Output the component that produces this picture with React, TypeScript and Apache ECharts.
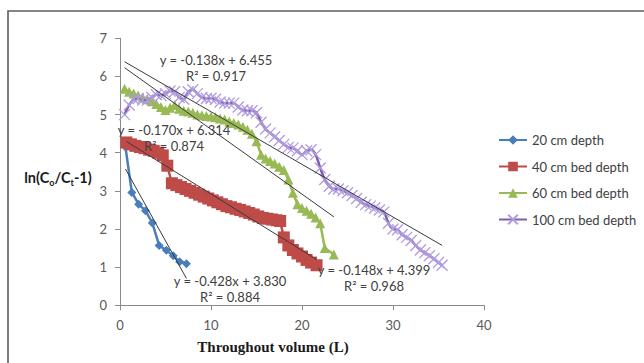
import React, { useEffect, useRef } from "react";
import * as echarts from "echarts";

// ---- data ----
const seriesNames = ["20 cm depth", "40 cm bed depth", "60 cm bed depth", "100 cm bed depth"];

const vol20 = [0.6, 1.3, 2.05, 2.8, 3.55, 4.3, 5.1, 5.85, 6.55, 7.3];
const ln20 = [4.15, 2.96, 2.65, 2.48, 2.16, 1.57, 1.44, 1.3, 1.14, 1.09];

const vol40 = [0.7, 1.2, 1.7, 2.2, 2.7, 3.2, 3.7, 4.2, 4.7, 5.2, 5.7, 6.2, 6.7, 7.2, 7.7, 8.2, 8.7, 9.2, 9.7, 10.2, 10.7, 11.2, 11.7, 12.2, 12.7, 13.2, 13.7, 14.2, 14.7, 15.2, 15.7, 16.2, 16.7, 17.2, 17.6, 18.0, 18.5, 19.0, 19.5, 20.0, 20.5, 21.0, 21.6];
const ln40 = [4.27, 4.22, 4.18, 4.15, 4.12, 4.08, 4.05, 4.0, 3.93, 3.66, 3.2, 3.15, 3.1, 3.05, 3.0, 2.95, 2.9, 2.85, 2.8, 2.75, 2.7, 2.65, 2.6, 2.57, 2.53, 2.5, 2.46, 2.42, 2.38, 2.33, 2.29, 2.27, 2.25, 2.23, 2.21, 1.78, 1.57, 1.45, 1.36, 1.28, 1.19, 1.12, 1.05];

const vol60 = [0.5, 1.0, 1.5, 2.0, 2.5, 3.0, 3.5, 4.0, 4.5, 5.0, 5.5, 6.0, 6.5, 7.0, 7.5, 8.0, 8.5, 9.0, 9.5, 10.0, 10.5, 11.0, 11.5, 12.0, 12.5, 13.0, 13.5, 14.0, 14.5, 15.0, 15.5, 16.0, 16.5, 17.0, 17.5, 18.0, 18.5, 19.0, 19.5, 20.0, 20.5, 21.0, 21.5, 22.0, 22.5, 23.5];
const ln60 = [5.68, 5.6, 5.55, 5.5, 5.45, 5.4, 5.35, 5.28, 5.2, 5.12, 5.18, 5.25, 5.15, 5.1, 5.08, 5.05, 5.0, 4.98, 4.96, 4.95, 4.93, 4.9, 4.87, 4.82, 4.78, 4.74, 4.68, 4.6, 4.5, 4.3, 3.95, 3.85, 3.78, 3.72, 3.63, 3.55, 3.3, 2.95, 2.65, 2.55, 2.48, 2.4, 2.3, 2.15, 1.5, 1.33];

const vol100 = [0.5, 1.0, 1.5, 2.0, 2.5, 3.0, 3.5, 4.0, 4.5, 5.0, 5.5, 6.0, 6.5, 7.0, 7.5, 8.0, 8.5, 9.0, 9.5, 10.0, 10.5, 11.0, 11.5, 12.0, 12.5, 13.0, 13.5, 14.0, 14.5, 15.0, 15.5, 16.0, 16.5, 17.0, 17.5, 18.0, 18.5, 19.0, 19.5, 20.0, 20.5, 21.0, 21.5, 22.0, 22.5, 23.0, 23.5, 24.0, 24.5, 25.0, 25.5, 26.0, 26.5, 27.0, 27.5, 28.0, 28.5, 29.0, 29.5, 30.0, 30.5, 31.0, 31.5, 32.0, 32.5, 33.0, 33.5, 34.0, 34.5, 35.0, 35.4];
const ln100 = [5.0, 5.25, 5.4, 5.42, 5.38, 5.38, 5.45, 5.52, 5.5, 5.55, 5.62, 5.6, 5.45, 5.4, 5.6, 5.65, 5.55, 5.45, 5.42, 5.43, 5.4, 5.33, 5.3, 5.3, 5.3, 5.2, 5.12, 5.1, 5.1, 5.05, 4.8, 4.62, 4.52, 4.42, 4.32, 4.22, 4.14, 4.12, 4.05, 3.95, 4.05, 4.08, 3.95, 3.6, 3.3, 3.12, 3.05, 3.05, 3.0, 2.95, 2.88, 2.8, 2.7, 2.64, 2.6, 2.55, 2.5, 2.45, 2.15, 2.0, 1.98, 1.85, 1.78, 1.7, 1.57, 1.45, 1.38, 1.3, 1.22, 1.12, 1.05];

// linear trend lines (slope, intercept, R²)
const trendSlopes = [-0.428, -0.148, -0.17, -0.138];
const trendIntercepts = [3.83, 4.399, 6.314, 6.455];
const trendR2 = [0.884, 0.968, 0.874, 0.917];

const xTicks = { min: 0, max: 40, interval: 10 };
const yTicks = { min: 0, max: 7, interval: 1 };

const colors = ["#4A7EBB", "#BE4B48", "#98B954", "#7D5FA8"];

export default function App() {
  const ref = useRef<HTMLDivElement>(null);

  useEffect(() => {
    if (!ref.current) return;
    const chart = echarts.init(ref.current, undefined, { renderer: "svg" });

    const xs = [vol20, vol40, vol60, vol100];
    const ys = [ln20, ln40, ln60, ln100];
    const pairs = (a: number[], b: number[]) => a.map((v, i) => [v, b[i]]);

    const symbols = ["diamond", "rect", "triangle", "path://M0,0L10,10M10,0L0,10"];
    const symbolSizes = [9, 12, 10, 11];

    const dataSeries: any[] = seriesNames.map((name, i) => ({
      name,
      type: "line",
      data: pairs(xs[i], ys[i]),
      symbol: symbols[i],
      symbolSize: symbolSizes[i],
      smooth: i === 3 ? 0.35 : false,
      lineStyle: { color: colors[i], width: 2.5 },
      itemStyle:
        i === 3
          ? { color: "rgba(0,0,0,0)", borderColor: "#B09CE0", borderWidth: 1.3 }
          : { color: colors[i], borderWidth: 0 },
      z: 2 + i,
    }));

    const trendSeries: any[] = trendSlopes.map((m, i) => {
      const x0 = Math.min(...xs[i]);
      const x1 = Math.max(...xs[i]);
      return {
        type: "line",
        silent: true,
        symbol: "none",
        data: [
          [x0, trendIntercepts[i] + m * x0],
          [x1, trendIntercepts[i] + m * x1],
        ],
        lineStyle: { color: "#3a3a3a", width: 1 },
        z: 10,
      };
    });

    const eq = (i: number) =>
      `y = ${trendSlopes[i].toFixed(3)}x + ${trendIntercepts[i].toFixed(3)}\nR² = ${trendR2[i].toFixed(3)}`;

    const eqPos = [
      [230, 280.5],
      [374, 270],
      [174, 129.5],
      [216, 59.5],
    ];

    const labelFont = "Lato, 'Noto Sans', sans-serif";

    chart.setOption({
      animation: false,
      backgroundColor: "#ffffff",
      grid: { left: 120, right: 160, top: 38.3, bottom: 57.7, containLabel: false },
      xAxis: {
        type: "value",
        min: xTicks.min,
        max: xTicks.max,
        interval: xTicks.interval,
        axisLine: { show: true, lineStyle: { color: "#8a8a8a", width: 1 } },
        axisTick: { show: true, length: 5, lineStyle: { color: "#8a8a8a" } },
        axisLabel: { color: "#595959", fontSize: 13, fontFamily: labelFont, margin: 13 },
        splitLine: { show: false },
      },
      yAxis: {
        type: "value",
        min: yTicks.min,
        max: yTicks.max,
        interval: yTicks.interval,
        axisLine: { show: true, lineStyle: { color: "#8a8a8a", width: 1 } },
        axisTick: { show: true, length: 5, lineStyle: { color: "#8a8a8a" } },
        axisLabel: { color: "#595959", fontSize: 13, fontFamily: labelFont, margin: 13 },
        splitLine: { show: false },
      },
      legend: {
        data: seriesNames,
        orient: "vertical",
        left: 493,
        top: 128.5,
        itemWidth: 28,
        itemHeight: 12,
        itemGap: 13.5,
        textStyle: { color: "#404040", fontSize: 13, fontFamily: labelFont },
      },
      series: [...dataSeries, ...trendSeries],
      graphic: [
        {
          type: "rect",
          shape: { x: 8, y: 11, width: 700, height: 400 },
          style: { fill: "none", stroke: "#5e5e5e", lineWidth: 1.6 },
          silent: true,
        },
        ...eqPos.map((p, i) => ({
          type: "text",
          x: p[0],
          y: p[1] - 8,
          z: 100,
          style: {
            text: eq(i),
            fill: "#404040",
            font: `13px ${labelFont}`,
            align: "center",
            verticalAlign: "top",
            lineHeight: 16,
          },
          silent: true,
        })),
        {
          type: "text",
          x: 58,
          y: 177,
          z: 100,
          style: {
            text: "{a|ln(C}{s|o}{a|/C}{s|t}{a|-1)}",
            align: "center",
            verticalAlign: "middle",
            rich: {
              a: { fontSize: 14.5, fontWeight: "bold", fontFamily: labelFont, fill: "#1a1a1a", lineHeight: 20 },
              s: { fontSize: 9, fontWeight: "bold", fontFamily: labelFont, fill: "#1a1a1a", lineHeight: 9, verticalAlign: "bottom" },
            },
          },
          silent: true,
        },
        {
          type: "text",
          x: 273,
          y: 347,
          z: 100,
          style: {
            text: "Throughout volume (L)",
            fill: "#1a1a1a",
            font: "bold 15px 'Liberation Serif', 'Times New Roman', serif",
            align: "center",
            verticalAlign: "middle",
          },
          silent: true,
        },
      ],
    });

    return () => chart.dispose();
  }, []);

  return <div ref={ref} style={{ position: "fixed", left: 0, top: 0, width: 644, height: 363 }} />;
}
